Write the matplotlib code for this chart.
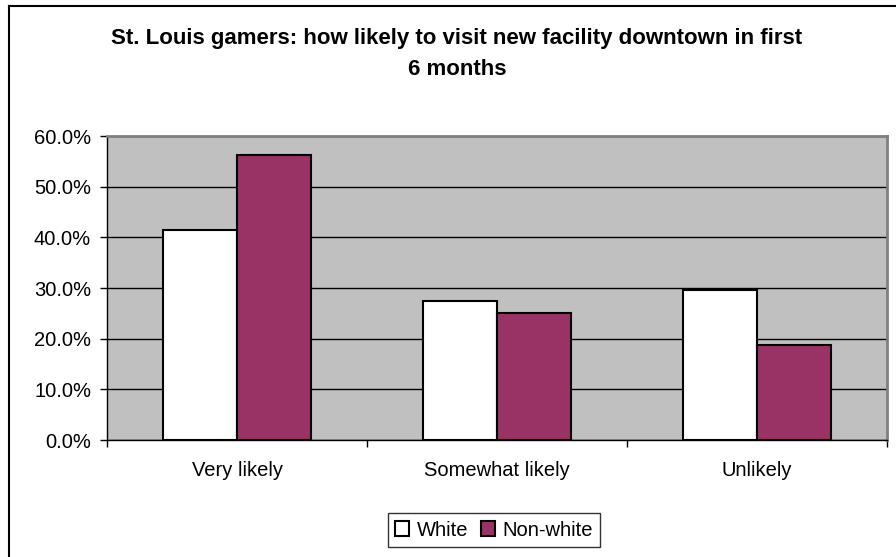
import matplotlib
matplotlib.use("Agg")
import matplotlib.pyplot as plt
import numpy as np
from matplotlib.lines import Line2D
from matplotlib.ticker import FuncFormatter, FixedLocator

plt.rcParams['font.family'] = ['Liberation Sans', 'DejaVu Sans']

categories = ["Very likely", "Somewhat likely", "Unlikely"]
white = [41.4, 27.5, 29.6]
nonwhite = [56.2, 25.0, 18.7]
series_names = ["White", "Non-white"]
yticks = [0, 10, 20, 30, 40, 50, 60]
title = "St. Louis gamers: how likely to visit new facility downtown in first\n6 months"

fig = plt.figure(figsize=(8.96, 5.57), dpi=100)
ax = fig.add_axes([107/896, 1-440/557, (887-107)/896, (440-136)/557])
ax.set_facecolor("#C0C0C0")

x = np.arange(len(categories))
w = 1/3.5
ax.bar(x - w/2, white, width=w, color="white", edgecolor="black", linewidth=1.5, label=series_names[0], zorder=3)
ax.bar(x + w/2, nonwhite, width=w, color="#993366", edgecolor="black", linewidth=1.5, label=series_names[1], zorder=3)

ax.set_xlim(-0.5, len(categories) - 0.5)
ax.set_ylim(0, 60)
ax.set_yticks(yticks)
ax.yaxis.set_major_formatter(FuncFormatter(lambda v, p: f"{v:.1f}%"))
ax.yaxis.grid(True, color="#000000", linewidth=1, zorder=1)
ax.set_axisbelow(True)

ax.set_xticks(x)
ax.set_xticklabels(categories, fontsize=14.5)
ax.xaxis.set_minor_locator(FixedLocator(list(np.arange(len(categories) + 1) - 0.5)))
ax.tick_params(axis='x', which='major', length=0, pad=15)
ax.tick_params(axis='x', which='minor', length=5, width=1, color="black", direction='out')
ax.tick_params(axis='y', length=5, width=1, direction='out', labelsize=14.5, pad=6.5)

for s in ["top", "right"]:
    ax.spines[s].set_color("#808080")
    ax.spines[s].set_linewidth(2)
for s in ["left", "bottom"]:
    ax.spines[s].set_color("black")
    ax.spines[s].set_linewidth(1)

fig.text(457/896, 1-54/557, title, ha="center", va="center", fontsize=16, fontweight="bold", linespacing=1.6)

leg = ax.legend(loc="center", bbox_to_anchor=(494/896, 1-530/557), bbox_transform=fig.transFigure,
                ncol=2, frameon=True, fancybox=False, edgecolor="black", fontsize=14.5,
                handlelength=0.7, handleheight=0.7, handletextpad=0.4, columnspacing=0.6,
                borderpad=0.35)
leg.get_frame().set_linewidth(1)

# outer chart border
fig.add_artist(Line2D([8.5/896, 8.5/896], [0, 1-6/557], transform=fig.transFigure, color="black", linewidth=1.5))
fig.add_artist(Line2D([8.5/896, 1], [1-6/557, 1-6/557], transform=fig.transFigure, color="black", linewidth=1.5))

fig.savefig("out.png", dpi=100)
